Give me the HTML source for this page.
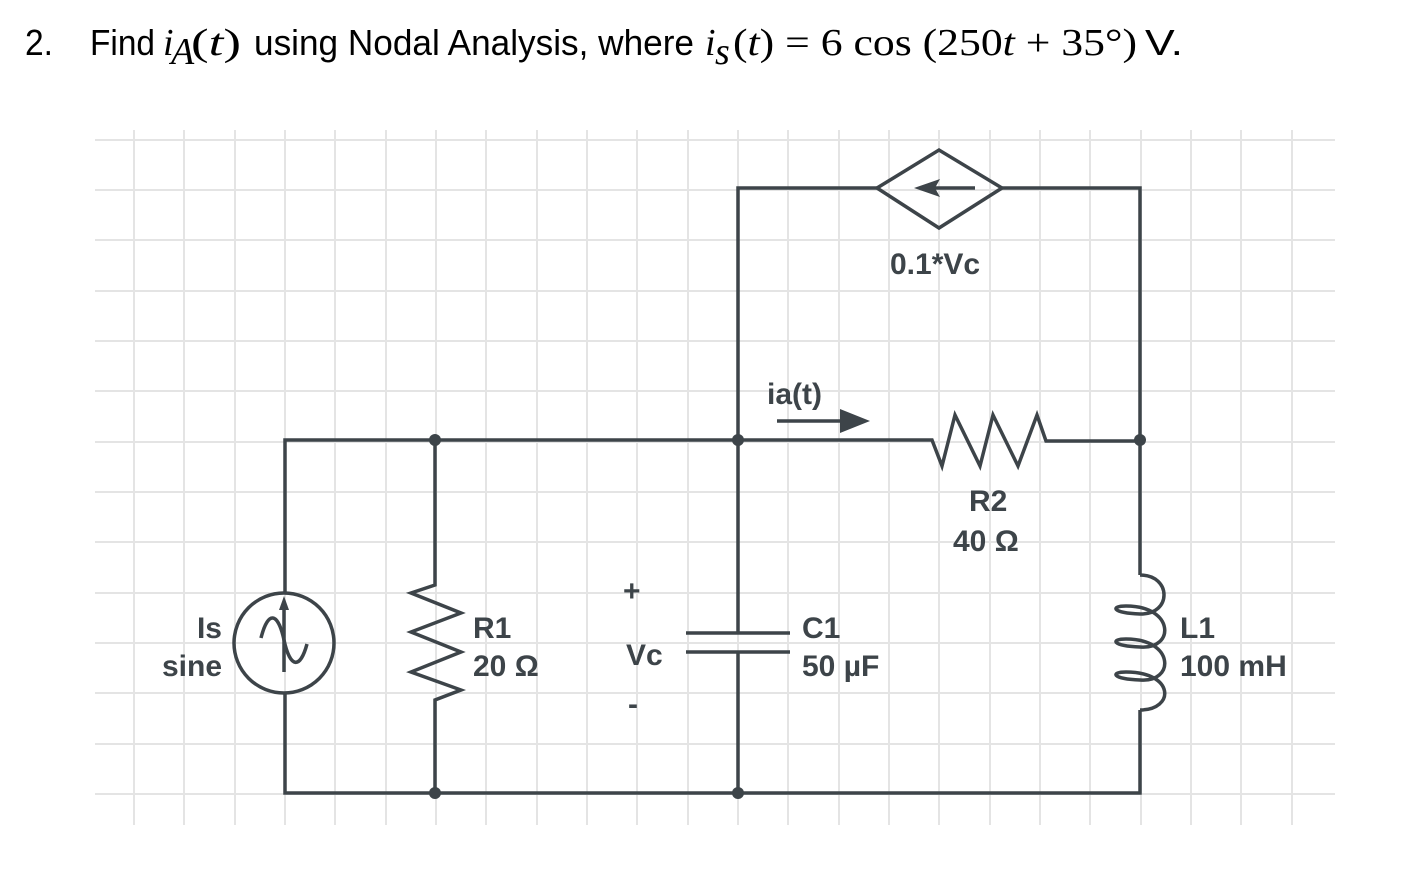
<!DOCTYPE html>
<html><head><meta charset="utf-8"><style>
html,body{margin:0;padding:0;background:#fff;width:1420px;height:882px;overflow:hidden}
svg{display:block}
.t{font-family:"Liberation Sans",sans-serif;font-size:36px;fill:#000}
.m{font-family:"Liberation Serif",serif;font-size:38px;fill:#000}
.l{font-family:"Liberation Sans",sans-serif;font-size:30px;font-weight:bold;fill:#3d4449}
</style></head><body>
<svg width="1420" height="882" viewBox="0 0 1420 882" xmlns="http://www.w3.org/2000/svg">
<text class="t" x="25" y="55" textLength="28" lengthAdjust="spacingAndGlyphs">2.</text>
<text class="t" x="90" y="55" textLength="65" lengthAdjust="spacingAndGlyphs">Find</text>
<text class="m" x="163" y="55" font-style="italic">i</text>
<text class="m" x="171" y="64" font-style="italic" font-size="24">A</text>
<text class="m" x="191" y="55" textLength="50" lengthAdjust="spacingAndGlyphs">(<tspan font-style="italic">t</tspan>)</text>
<text class="t" x="254" y="55" textLength="440" lengthAdjust="spacingAndGlyphs">using Nodal Analysis, where</text>
<text class="m" x="705" y="55" font-style="italic">i</text>
<text class="m" x="715" y="64" font-style="italic" font-size="26">s</text>
<text class="m" x="733" y="55" textLength="404" lengthAdjust="spacingAndGlyphs">(<tspan font-style="italic">t</tspan>) = 6 cos (250<tspan font-style="italic">t</tspan> + 35°)</text>
<text class="t" x="1145" y="55" textLength="38" lengthAdjust="spacingAndGlyphs">V.</text>

<g stroke="#e4e4e4" stroke-width="2">
<line x1="95" y1="140" x2="1335" y2="140"/><line x1="95" y1="190" x2="1335" y2="190"/><line x1="95" y1="240" x2="1335" y2="240"/><line x1="95" y1="291" x2="1335" y2="291"/><line x1="95" y1="341" x2="1335" y2="341"/><line x1="95" y1="391" x2="1335" y2="391"/><line x1="95" y1="442" x2="1335" y2="442"/><line x1="95" y1="492" x2="1335" y2="492"/><line x1="95" y1="542" x2="1335" y2="542"/><line x1="95" y1="593" x2="1335" y2="593"/><line x1="95" y1="643" x2="1335" y2="643"/><line x1="95" y1="693" x2="1335" y2="693"/><line x1="95" y1="744" x2="1335" y2="744"/><line x1="95" y1="794" x2="1335" y2="794"/>
<line x1="134" y1="130" x2="134" y2="825"/><line x1="184" y1="130" x2="184" y2="825"/><line x1="235" y1="130" x2="235" y2="825"/><line x1="285" y1="130" x2="285" y2="825"/><line x1="335" y1="130" x2="335" y2="825"/><line x1="386" y1="130" x2="386" y2="825"/><line x1="436" y1="130" x2="436" y2="825"/><line x1="486" y1="130" x2="486" y2="825"/><line x1="537" y1="130" x2="537" y2="825"/><line x1="587" y1="130" x2="587" y2="825"/><line x1="637" y1="130" x2="637" y2="825"/><line x1="688" y1="130" x2="688" y2="825"/><line x1="738" y1="130" x2="738" y2="825"/><line x1="788" y1="130" x2="788" y2="825"/><line x1="839" y1="130" x2="839" y2="825"/><line x1="889" y1="130" x2="889" y2="825"/><line x1="939" y1="130" x2="939" y2="825"/><line x1="990" y1="130" x2="990" y2="825"/><line x1="1040" y1="130" x2="1040" y2="825"/><line x1="1090" y1="130" x2="1090" y2="825"/><line x1="1141" y1="130" x2="1141" y2="825"/><line x1="1191" y1="130" x2="1191" y2="825"/><line x1="1241" y1="130" x2="1241" y2="825"/><line x1="1292" y1="130" x2="1292" y2="825"/>
</g>

<g stroke="#3d4449" stroke-width="3.5" fill="none" stroke-linejoin="miter">
<path d="M285,592 V440 H932 L942,466 L955,415 L980,466 L993,415 L1018,466 L1037,415 L1046,441 H1140 V188 H1002"/>
<path d="M877,188 H738 V633"/>
<path d="M738,652 V793"/>
<path d="M285,694 V793 H1140 V710"/>
<path d="M1140,440 V575"/>
<path d="M435,440 V585 L411,593 L461,613 L411,632 L461,652 L411,672 L461,690 L435,700 V793"/>
<circle cx="284" cy="643" r="50"/>
<path d="M877,188 L939,150 L1002,188 L939,228 Z"/>
<line x1="686" y1="633" x2="790" y2="633"/>
<line x1="686" y1="652" x2="790" y2="652"/>
<line x1="777" y1="421" x2="845" y2="421"/>
<line x1="975" y1="188" x2="925" y2="188"/>
<path d="M1140,575 C1172,575 1172,615 1140,614 C1112,613 1110,606 1126,606 C1175,606 1175,650 1140,647 C1112,646 1110,639 1126,639 C1175,639 1175,683 1140,680 C1112,679 1110,672 1126,672 C1175,672 1175,710 1140,710"/>
<line x1="284" y1="672" x2="284" y2="605"/>
<path d="M261,638 C268,610 278,612 284,640 C290,668 300,670 307,644"/>
</g>
<g fill="#3d4449">
<path d="M840,409 L870,421 L840,433 Z"/>
<path d="M914,188 L940,179 L935,188 L940,197 Z"/>
<path d="M284,596 L279,610 L289,610 Z"/>
<circle cx="435" cy="440" r="6"/><circle cx="738" cy="440" r="6"/><circle cx="1140" cy="440" r="6"/>
<circle cx="435" cy="793" r="6"/><circle cx="738" cy="793" r="6"/>
</g>
<text class="l" x="222" y="638" text-anchor="end">Is</text>
<text class="l" x="222" y="676" text-anchor="end">sine</text>
<text class="l" x="473" y="638">R1</text>
<text class="l" x="473" y="676">20 Ω</text>
<text class="l" x="623" y="601">+</text>
<text class="l" x="626" y="665">Vc</text>
<text class="l" x="628" y="714">-</text>
<text class="l" x="802" y="638">C1</text>
<text class="l" x="802" y="676">50 µF</text>
<text class="l" x="969" y="511">R2</text>
<text class="l" x="953" y="551">40 Ω</text>
<text class="l" x="1180" y="638">L1</text>
<text class="l" x="1180" y="676">100 mH</text>
<text class="l" x="890" y="274">0.1*Vc</text>
<text class="l" x="767" y="404">ia(t)</text>
</svg>
</body></html>
